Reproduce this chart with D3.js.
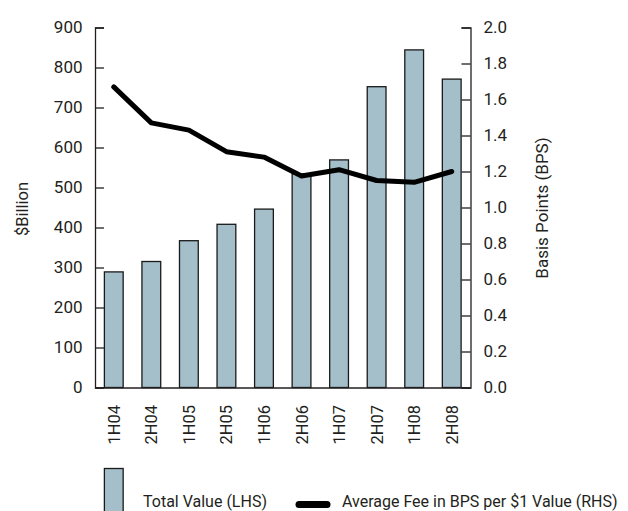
<!DOCTYPE html>
<html><head><meta charset="utf-8">
<script src="https://d3js.org/d3.v7.min.js"></script>
<style>body{margin:0;background:#fff}svg{display:block}text{font-family:Roboto,"Noto Sans",sans-serif;fill:#231f20}</style>
</head><body><svg id="c" width="628" height="511"></svg>
<script>
const categories = ["1H04","2H04","1H05","2H05","1H06","2H06","1H07","2H07","1H08","2H08"];
const totalValue = [289, 315, 367, 408, 446, 534, 569, 752, 844, 771];
const avgFee = [1.67, 1.47, 1.43, 1.31, 1.28, 1.175, 1.21, 1.15, 1.14, 1.2];
const leftTicks = [0,100,200,300,400,500,600,700,800,900];
const rightTicks = [0,0.2,0.4,0.6,0.8,1.0,1.2,1.4,1.6,1.8,2.0];

const svg = d3.select("#c");
const x0 = 95, x1 = 470.5, yTop = 27.5, yBot = 387.5;
const x = d3.scaleBand().domain(categories).range([x0, x1]).paddingInner(0.5).paddingOuter(0.25);
const yL = d3.scaleLinear().domain([0, 900]).range([yBot, yTop]);
const yR = d3.scaleLinear().domain([0, 2]).range([yBot, yTop]);

// bars
svg.append("g").selectAll("rect").data(totalValue).join("rect")
  .attr("x", (d,i) => x(categories[i]))
  .attr("y", d => yL(d))
  .attr("width", x.bandwidth())
  .attr("height", d => yBot - yL(d))
  .attr("fill", "#a4bfca").attr("stroke", "#1a1a1a").attr("stroke-width", 1.3);

// left axis
const gl = svg.append("g").attr("transform", `translate(${x0},0)`)
  .call(d3.axisLeft(yL).tickValues(leftTicks).tickSize(-9).tickPadding(12.5).tickFormat(d3.format("d")));
// right axis
const gr = svg.append("g").attr("transform", `translate(${x1},0)`)
  .call(d3.axisRight(yR).tickValues(rightTicks).tickSize(-9).tickPadding(13).tickFormat(d3.format(".1f")));
[gl, gr].forEach(g => {
  g.select(".domain").attr("stroke", "#231f20").attr("stroke-width", 1.3);
  g.selectAll(".tick line").attr("stroke", "#231f20").attr("stroke-width", 1.3);
  g.selectAll("text").attr("font-size", 17).attr("font-family", "Roboto").attr("fill", "#231f20");
});
// bottom baseline
svg.append("g").attr("transform", `translate(0,${yBot})`)
  .call(d3.axisBottom(x).tickSize(0).tickFormat(""))
  .select(".domain").attr("stroke", "#231f20").attr("stroke-width", 1.3);

// x labels
svg.append("g").selectAll("text").data(categories).join("text")
  .attr("transform", d => `translate(${x(d) + x.bandwidth()/2 + 6},405) rotate(-90)`)
  .attr("text-anchor", "end").attr("font-size", 16.5).text(d => d);

// line
const line = d3.line().x((d,i) => x(categories[i]) + x.bandwidth()/2).y(d => yR(d));
svg.append("path").datum(avgFee).attr("d", line)
  .attr("fill", "none").attr("stroke", "#000").attr("stroke-width", 5).attr("stroke-linejoin", "round").attr("stroke-linecap", "round");

// axis titles
svg.append("text").attr("transform", `translate(27.5,209) rotate(-90)`).attr("text-anchor", "middle").attr("font-size", 16.5).text("$Billion");
svg.append("text").attr("transform", `translate(548,208) rotate(-90)`).attr("text-anchor", "middle").attr("font-size", 17).text("Basis Points (BPS)");

// legend
svg.append("rect").attr("x", x(categories[0])).attr("y", 468.5).attr("width", x.bandwidth()).attr("height", 60)
  .attr("fill", "#a4bfca").attr("stroke", "#1a1a1a").attr("stroke-width", 1.3);
svg.append("text").attr("x", 143).attr("y", 507).attr("font-size", 16).text("Total Value (LHS)");
svg.append("line").attr("x1", 299).attr("x2", 327).attr("y1", 504.5).attr("y2", 504.5)
  .attr("stroke", "#000").attr("stroke-width", 7).attr("stroke-linecap", "round");
svg.append("text").attr("x", 342).attr("y", 507).attr("font-size", 16).text("Average Fee in BPS per $1 Value (RHS)");
</script></body></html>
